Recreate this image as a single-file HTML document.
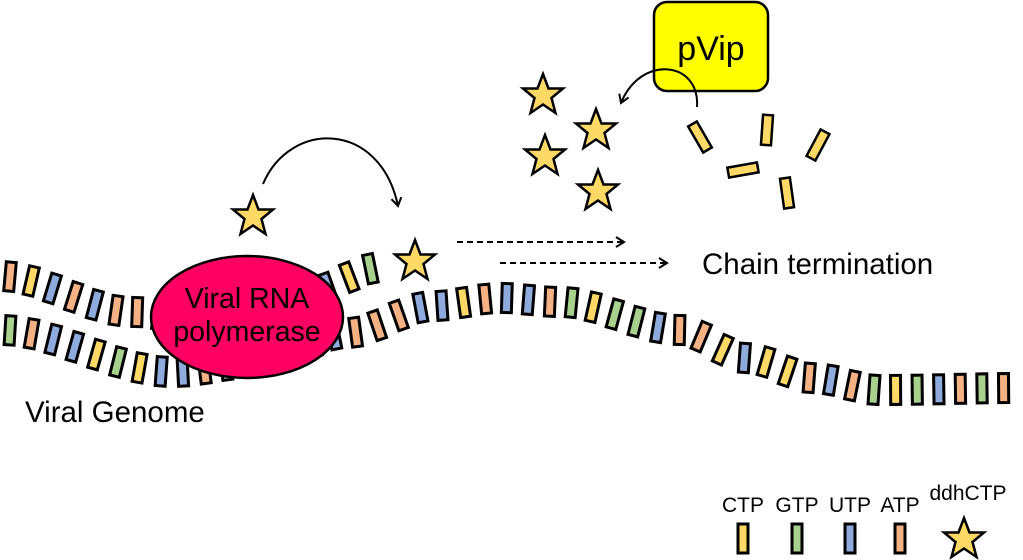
<!DOCTYPE html>
<html><head><meta charset="utf-8"><style>
html,body{margin:0;padding:0;background:#fff;width:1023px;height:560px;overflow:hidden}
svg{display:block}
text{font-family:"Liberation Sans",Arial,sans-serif;fill:#000}
</style></head><body>
<svg id="s" width="1023" height="560" viewBox="0 0 1023 560" xmlns="http://www.w3.org/2000/svg">
<defs>
<polygon id="star" points="0,-21 5.5,-6.5 20,-6.5 8.5,3 12.5,18 0,9.5 -12.5,18 -8.5,3 -20,-6.5 -5.5,-6.5" fill="#ffd966" stroke="#000" stroke-width="2.5" stroke-linejoin="miter"/>
<marker id="ah" markerWidth="12" markerHeight="12" refX="9" refY="6" orient="auto" markerUnits="userSpaceOnUse"><path d="M1,1 L9,6 L1,11" fill="none" stroke="#000" stroke-width="2"/></marker>
</defs>
<g id="strands"></g>
<ellipse cx="247" cy="317" rx="96" ry="61" fill="#fe0062" stroke="#000" stroke-width="2.5"/>
<text x="247" y="308" style="font-size:28.5px" text-anchor="middle">Viral RNA</text>
<text x="247" y="341" style="font-size:28.5px" text-anchor="middle">polymerase</text>
<text x="25" y="422" style="font-size:29.5px">Viral Genome</text>
<text x="702" y="274" style="font-size:29.5px">Chain termination</text>

<use href="#star" x="253" y="216"/>
<use href="#star" x="415" y="261"/>
<use href="#star" x="543" y="95"/>
<use href="#star" x="596" y="130"/>
<use href="#star" x="545" y="156"/>
<use href="#star" x="598" y="191"/>

<path d="M263,184 C290,120 380,120 398,206" fill="none" stroke="#000" stroke-width="2" marker-end="url(#ah)"/>
<line x1="457" y1="242" x2="624" y2="242" stroke="#000" stroke-width="2" stroke-dasharray="6,4" marker-end="url(#ah)"/>
<line x1="500" y1="263" x2="667" y2="263" stroke="#000" stroke-width="2" stroke-dasharray="6,4" marker-end="url(#ah)"/>

<rect x="654" y="2" width="114" height="89" rx="13" fill="#ffff00" stroke="#000" stroke-width="2.5"/>
<text x="711" y="60" style="font-size:34px" text-anchor="middle">pVip</text>
<path d="M697,107 C700,60 640,55 621,103" fill="none" stroke="#000" stroke-width="2" marker-end="url(#ah)"/>

<g fill="#ffd966" stroke="#000" stroke-width="2.5">
<rect x="-5" y="-15" width="10" height="30" transform="translate(700,137) rotate(-30)"/>
<rect x="-5" y="-15" width="10" height="30" transform="translate(767,130) rotate(4)"/>
<rect x="-5" y="-15" width="10" height="30" transform="translate(818,145) rotate(28)"/>
<rect x="-15" y="-5" width="30" height="10" transform="translate(743,170) rotate(-10)"/>
<rect x="-5" y="-15" width="10" height="30" transform="translate(787,193) rotate(-8)"/>
</g>

<g style="font-size:21px">
<text x="743" y="512" text-anchor="middle">CTP</text>
<text x="797" y="512" text-anchor="middle">GTP</text>
<text x="850" y="512" text-anchor="middle">UTP</text>
<text x="900" y="512" text-anchor="middle">ATP</text>
<text x="968" y="500" text-anchor="middle">ddhCTP</text>
</g>
<g stroke="#000" stroke-width="3">
<rect x="738" y="524" width="10" height="29" fill="#ffd966"/>
<rect x="792" y="524" width="10" height="29" fill="#a9d18e"/>
<rect x="845" y="524" width="10" height="29" fill="#8faadc"/>
<rect x="895" y="524" width="10" height="29" fill="#f4b183"/>
</g>
<use href="#star" x="964" y="539"/>
</svg>
<script>
(function(){
var C={y:"#ffd966",g:"#a9d18e",b:"#8faadc",o:"#f4b183"};
function interp(pts,x){
  for(var i=0;i<pts.length-1;i++){
    var a=pts[i],b=pts[i+1];
    if(x>=a[0]&&x<=b[0]){
      var t=(x-a[0])/(b[0]-a[0]); var s=t*t*(3-2*t);
      return a[1]+(b[1]-a[1])*s;
    }
  }
  return pts[pts.length-1][1];
}
var g=document.getElementById("strands");
function strand(pts,x0,x1,step,cols){
  var n=0;
  for(var x=x0;x<=x1;x+=step){
    var y=interp(pts,x);
    var d=(interp(pts,x+3)-interp(pts,x-3))/6;
    var ang=Math.atan(d)*180/Math.PI*0.8;
    var r=document.createElementNS("http://www.w3.org/2000/svg","rect");
    r.setAttribute("x",-5);r.setAttribute("y",-14.5);
    r.setAttribute("width",10);r.setAttribute("height",29);
    r.setAttribute("fill",C[cols[n%cols.length]]);
    r.setAttribute("stroke","#000");r.setAttribute("stroke-width","3");
    r.setAttribute("transform","translate("+x.toFixed(1)+","+y.toFixed(1)+") rotate("+ang.toFixed(1)+")");
    g.appendChild(r);n++;
  }
}
var bottom=[[0,330],[173,372],[260,362],[347,333],[433,306],[500,298],[560,302],[680,330],[747,358],[813,378],[880,390],[1023,388]];
strand(bottom,10,1012,21.6,"gobbygybbogbggbbooobbyobbogyggbooybyyobogygbo".split(""));
var top=[[0,276],[133,312],[200,320],[300,295],[383,267],[400,262]];
strand(top,10,388,21.2,"oyboboooobbbooobyg".split(""));
})();
</script>
</body></html>
